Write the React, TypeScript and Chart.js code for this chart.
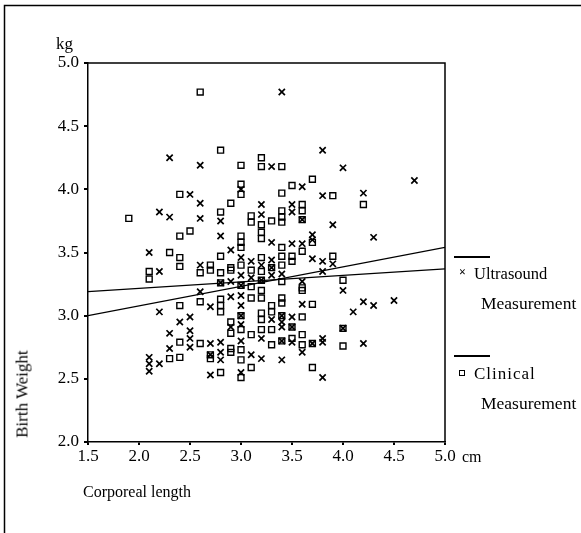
import React, { useEffect, useRef } from "react";
import { Chart, registerables } from "chart.js";

Chart.register(...registerables);

// Ultrasound measurement (× markers)
const ultrasoundX = [
  2.1, 2.1, 2.1, 2.1,
  2.2, 2.2, 2.2, 2.2,
  2.3, 2.3, 2.3, 2.3,
  2.4,
  2.5, 2.5, 2.5, 2.5, 2.5,
  2.6, 2.6, 2.6, 2.6, 2.6,
  2.7, 2.7, 2.7, 2.7,
  2.8, 2.8, 2.8, 2.8, 2.8, 2.8,
  2.9, 2.9, 2.9, 2.9,
  3.0, 3.0, 3.0, 3.0, 3.0, 3.0, 3.0, 3.0, 3.0, 3.0,
  3.1, 3.1, 3.1,
  3.2, 3.2, 3.2, 3.2, 3.2, 3.2,
  3.3, 3.3, 3.3, 3.3, 3.3, 3.3,
  3.4, 3.4, 3.4, 3.4, 3.4, 3.4, 3.4,
  3.5, 3.5, 3.5, 3.5, 3.5, 3.5,
  3.6, 3.6, 3.6, 3.6, 3.6, 3.6,
  3.7, 3.7, 3.7, 3.7,
  3.8, 3.8, 3.8, 3.8, 3.8, 3.8, 3.8,
  3.9, 3.9,
  4.0, 4.0, 4.0,
  4.1,
  4.2, 4.2, 4.2,
  4.3, 4.3,
  4.5,
  4.7,
];
const ultrasoundY = [
  3.5, 2.67, 2.62, 2.56,
  3.82, 3.35, 3.03, 2.62,
  4.25, 3.78, 2.86, 2.74,
  2.95,
  3.96, 2.99, 2.88, 2.82, 2.75,
  4.19, 3.89, 3.77, 3.4, 3.19,
  3.07, 2.78, 2.69, 2.53,
  3.75, 3.63, 3.26, 2.79, 2.71, 2.65,
  3.52, 3.27, 3.15, 2.91,
  4.0, 3.46, 3.32, 3.24, 3.16, 3.08, 3.0, 2.93, 2.8, 2.55,
  3.43, 3.3, 2.69,
  3.88, 3.8, 3.4, 3.28, 2.82, 2.66,
  4.18, 3.58, 3.44, 3.38, 3.32, 2.97,
  4.77, 3.33, 3.0, 2.95, 2.91, 2.8, 2.65,
  3.88, 3.82, 3.57, 2.99, 2.91, 2.79,
  4.02, 3.76, 3.57, 3.27, 3.09, 2.71,
  3.64, 3.6, 3.45, 2.78,
  4.31, 3.95, 3.43, 3.35, 2.82, 2.79, 2.51,
  3.72, 3.41,
  4.17, 3.2, 2.9,
  3.03,
  3.97, 3.11, 2.78,
  3.62, 3.08,
  3.12,
  4.07,
];

// Clinical measurement (□ markers)
const clinicalX = [
  1.9,
  2.1, 2.1,
  2.3, 2.3,
  2.4, 2.4, 2.4, 2.4, 2.4, 2.4, 2.4,
  2.5,
  2.6, 2.6, 2.6, 2.6,
  2.7, 2.7, 2.7, 2.7,
  2.8, 2.8, 2.8, 2.8, 2.8, 2.8, 2.8, 2.8, 2.8,
  2.9, 2.9, 2.9, 2.9, 2.9, 2.9, 2.9,
  3.0, 3.0, 3.0, 3.0, 3.0, 3.0, 3.0, 3.0, 3.0, 3.0, 3.0, 3.0, 3.0,
  3.1, 3.1, 3.1, 3.1, 3.1, 3.1, 3.1,
  3.2, 3.2, 3.2, 3.2, 3.2, 3.2, 3.2, 3.2, 3.2, 3.2, 3.2, 3.2, 3.2,
  3.3, 3.3, 3.3, 3.3, 3.3, 3.3,
  3.4, 3.4, 3.4, 3.4, 3.4, 3.4, 3.4, 3.4, 3.4, 3.4, 3.4, 3.4, 3.4,
  3.5, 3.5, 3.5, 3.5, 3.5,
  3.6, 3.6, 3.6, 3.6, 3.6, 3.6, 3.6, 3.6, 3.6,
  3.7, 3.7, 3.7, 3.7, 3.7,
  3.9, 3.9,
  4.0, 4.0, 4.0,
  4.2,
];
const clinicalY = [
  3.77,
  3.35, 3.29,
  3.5, 2.66,
  3.96, 3.63, 3.46, 3.39, 3.08, 2.79, 2.67,
  3.67,
  4.77, 3.34, 3.11, 2.78,
  3.4, 3.36, 2.69, 2.66,
  4.31, 3.82, 3.47, 3.34, 3.26, 3.13, 3.08, 3.03, 2.55,
  3.89, 3.38, 3.36, 2.95, 2.86, 2.74, 2.71,
  4.19, 4.04, 3.96, 3.63, 3.58, 3.54, 3.4, 3.24, 3.0, 2.89, 2.73, 2.65, 2.51,
  3.79, 3.74, 3.36, 3.23, 3.14, 2.85, 2.59,
  4.25, 4.18, 3.72, 3.66, 3.61, 3.46, 3.35, 3.28, 3.2, 3.14, 3.02, 2.97, 2.89,
  3.75, 3.38, 3.08, 3.03, 2.89, 2.77,
  4.18, 3.97, 3.83, 3.78, 3.74, 3.54, 3.47, 3.4, 3.27, 3.14, 3.1, 3.0, 2.8,
  4.03, 3.47, 3.43, 2.91, 2.82,
  3.88, 3.83, 3.76, 3.51, 3.22, 3.2, 2.99, 2.85, 2.77,
  4.08, 3.58, 3.09, 2.78, 2.59,
  3.95, 3.47,
  3.28, 2.9, 2.76,
  3.88,
];

// Regression lines (endpoints at x = 1.5 and x = 5.0)
const lineX = [1.5, 5.0];
const ultrasoundLineY = [3.0, 3.54];
const clinicalLineY = [3.19, 3.37];

const xTicks = [1.5, 2.0, 2.5, 3.0, 3.5, 4.0, 4.5, 5.0];
const yTicks = [2.0, 2.5, 3.0, 3.5, 4.0, 4.5, 5.0];

const FONT = '"Liberation Serif", "Times New Roman", serif';

const framePlugin = {
  id: "framePlugin",
  afterDraw(chart: any) {
    const { ctx, chartArea } = chart;
    ctx.save();
    ctx.strokeStyle = "#000";
    ctx.lineWidth = 1.5;
    ctx.beginPath();
    ctx.moveTo(chartArea.left, chartArea.top);
    ctx.lineTo(chartArea.right, chartArea.top);
    ctx.lineTo(chartArea.right, chartArea.bottom);
    ctx.stroke();
    // outer frame
    ctx.lineWidth = 1.5;
    ctx.beginPath();
    ctx.moveTo(4.5, 533);
    ctx.lineTo(4.5, 5.5);
    ctx.lineTo(581, 5.5);
    ctx.stroke();
    ctx.restore();
  },
};

const text: React.CSSProperties = {
  position: "absolute",
  fontFamily: FONT,
  fontSize: 16,
  color: "#000",
  whiteSpace: "nowrap",
  lineHeight: 1,
};

export default function App() {
  const ref = useRef<HTMLCanvasElement | null>(null);

  useEffect(() => {
    if (!ref.current) return;
    const us = ultrasoundX.map((x, i) => ({ x, y: ultrasoundY[i] }));
    const cl = clinicalX.map((x, i) => ({ x, y: clinicalY[i] }));
    const chart = new Chart(ref.current, {
      type: "scatter",
      data: {
        datasets: [
          {
            label: "Ultrasound Measurement",
            data: us,
            pointStyle: "crossRot",
            pointRadius: 4.4,
            borderColor: "#000",
            borderWidth: 1.7,
            backgroundColor: "#000",
          },
          {
            label: "Clinical Measurement",
            data: cl,
            pointStyle: "rect",
            pointRadius: 4.2,
            borderColor: "#000",
            borderWidth: 1.4,
            backgroundColor: "rgba(255,255,255,0)",
          },
          {
            label: "Ultrasound fit",
            data: lineX.map((x, i) => ({ x, y: ultrasoundLineY[i] })),
            showLine: true,
            pointRadius: 0,
            borderColor: "#000",
            borderWidth: 1.3,
          },
          {
            label: "Clinical fit",
            data: lineX.map((x, i) => ({ x, y: clinicalLineY[i] })),
            showLine: true,
            pointRadius: 0,
            borderColor: "#000",
            borderWidth: 1.3,
          },
        ],
      },
      options: {
        animation: false,
        responsive: false,
        maintainAspectRatio: false,
        layout: { padding: { left: 0, top: 63, right: 136, bottom: 0 } },
        plugins: { legend: { display: false }, tooltip: { enabled: false } },
        scales: {
          x: {
            type: "linear",
            min: 1.5,
            max: 5.0,
            afterBuildTicks: (scale: any) => {
              scale.ticks = xTicks.map((v) => ({ value: v }));
            },
            afterFit: (scale: any) => {
              scale.height = 91;
            },
            ticks: {
              color: "#000",
              font: { family: FONT, size: 17 },
              padding: 1,
              callback: (v: any) => Number(v).toFixed(1),
            },
            grid: {
              display: true,
              drawOnChartArea: false,
              drawTicks: true,
              tickLength: 3,
              color: "#000",
              lineWidth: 2,
            },
            border: { display: true, color: "#000", width: 1.5 },
          },
          y: {
            type: "linear",
            min: 2.0,
            max: 5.0,
            afterBuildTicks: (scale: any) => {
              scale.ticks = yTicks.map((v) => ({ value: v }));
            },
            afterFit: (scale: any) => {
              scale.width = 88;
            },
            ticks: {
              color: "#000",
              font: { family: FONT, size: 17 },
              padding: 5,
              callback: (v: any) => Number(v).toFixed(1),
            },
            grid: {
              display: true,
              drawOnChartArea: false,
              drawTicks: true,
              tickLength: 4,
              color: "#000",
              lineWidth: 2,
            },
            border: { display: true, color: "#000", width: 1.5 },
          },
        },
      },
      plugins: [framePlugin],
    } as any);
    return () => chart.destroy();
  }, []);

  return (
    <div style={{ position: "fixed", left: 0, top: 0, width: 581, height: 533, background: "#fff" }}>
      <canvas ref={ref} width={581} height={533} style={{ position: "absolute", left: 0, top: 0 }} />
      <div style={{ ...text, left: 56, top: 35, fontSize: 17 }}>kg</div>
      <div
        style={{
          ...text,
          fontSize: 17,
          left: 22,
          top: 394,
          transform: "translate(-50%, -50%) rotate(-90deg)",
        }}
      >
        Birth Weight
      </div>
      <div style={{ ...text, left: 462, top: 449 }}>cm</div>
      <div style={{ ...text, left: 83, top: 484 }}>Corporeal length</div>

      <div style={{ position: "absolute", left: 454, top: 256, width: 36, height: 1.5, background: "#000" }} />
      <div style={{ ...text, left: 459, top: 266, fontSize: 12, fontWeight: "bold" }}>×</div>
      <div style={{ ...text, left: 474, top: 266, fontSize: 16.5 }}>Ultrasound</div>
      <div style={{ ...text, left: 481, top: 295, fontSize: 17.5 }}>Measurement</div>

      <div style={{ position: "absolute", left: 454, top: 355, width: 36, height: 1.5, background: "#000" }} />
      <div
        style={{
          position: "absolute",
          left: 459,
          top: 370,
          width: 6,
          height: 6,
          border: "1px solid #000",
          boxSizing: "border-box",
        }}
      />
      <div style={{ ...text, left: 474, top: 365, fontSize: 17, letterSpacing: 1 }}>Clinical</div>
      <div style={{ ...text, left: 481, top: 395, fontSize: 17.5 }}>Measurement</div>
    </div>
  );
}
